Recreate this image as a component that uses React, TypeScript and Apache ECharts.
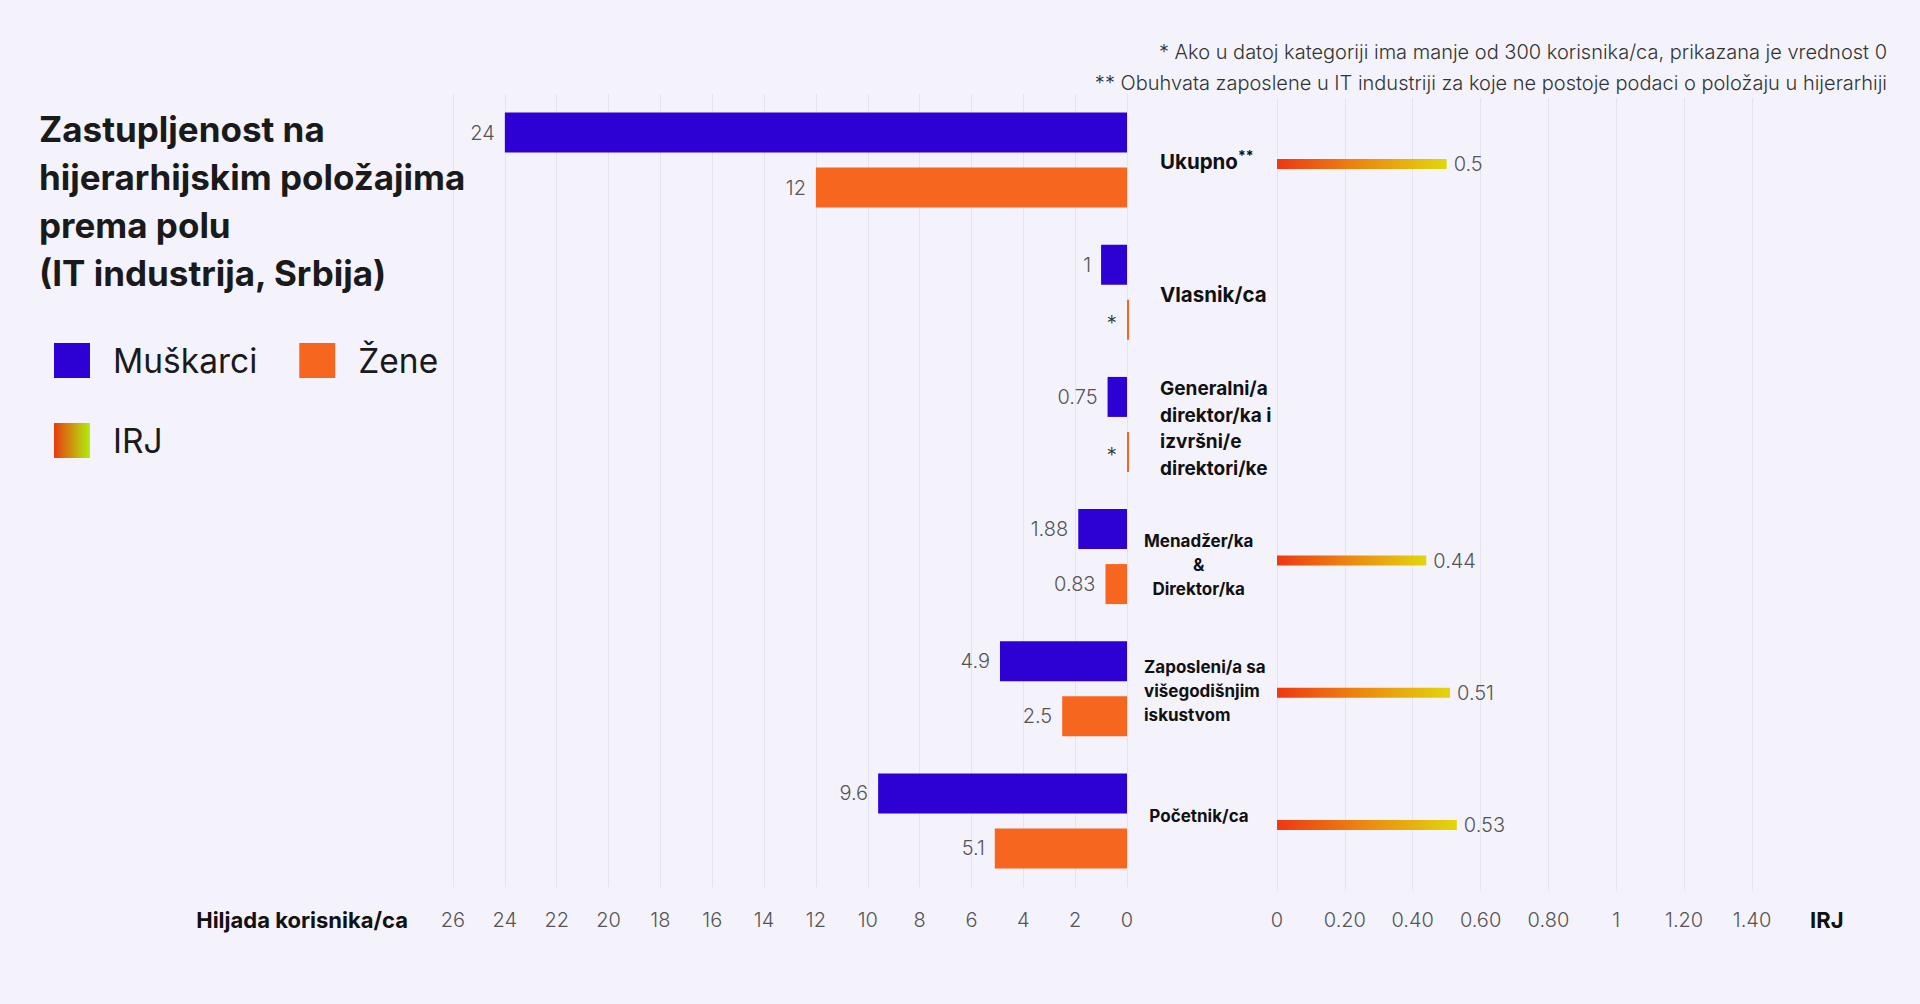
import { useEffect, useRef } from 'react';
import * as echarts from 'echarts';

const kategorije = [
  'Ukupno',
  'Vlasnik/ca',
  'Generalni/a direktor/ka i izvršni/e direktori/ke',
  'Menadžer/ka & Direktor/ka',
  'Zaposleni/a sa višegodišnjim iskustvom',
  'Početnik/ca',
];
const muskarci = [24, 1, 0.75, 1.88, 4.9, 9.6];
const zene = [12, 0, 0, 0.83, 2.5, 5.1];
const irj: (number | null)[] = [0.5, null, null, 0.44, 0.51, 0.53];
const irjTickovi = ['0', '0.20', '0.40', '0.60', '0.80', '1', '1.20', '1.40'];
const napomene = [
  '* Ako u datoj kategoriji ima manje od 300 korisnika/ca, prikazana je vrednost 0',
  '** Obuhvata zaposlene u IT industriji za koje ne postoje podaci o položaju u hijerarhiji',
];

// izgled oznaka kategorija (prelom redova i stil)
const oznakeKategorija = [
  '{u|Ukupno}{s|**}',
  '{u|Vlasnik/ca}',
  '{g|Generalni/a}\n{g|direktor/ka i}\n{g|izvršni/e}\n{g|direktori/ke}',
  '{m|Menadžer/ka}\n{m|&}\n{m|Direktor/ka}',
  '{z|Zaposleni/a sa}\n{z|višegodišnjim}\n{z|iskustvom}',
  '{p|Početnik/ca}',
];
// vertikalni pomak oznake (px, + je nadole)
const pomakOznake = [1, 2, 4, 8, 2, -5];

const FONT = 'Inter';
const PLAVA = '#2d00d3';
const NARANDZASTA = '#f7661f';
const POZADINA = '#f4f3fb';

export default function App() {
  const divRef = useRef<HTMLDivElement>(null);

  useEffect(() => {
    if (!divRef.current) return;
    document.body.style.margin = '0';
    document.body.style.background = POZADINA;

    const chart = echarts.init(divRef.current, undefined, { renderer: 'svg' });

    const irjGradijent = new echarts.graphic.LinearGradient(0, 0, 1, 0, [
      { offset: 0, color: '#ee3813' },
      { offset: 0.5, color: '#ec8a10' },
      { offset: 1, color: '#e2d60c' },
    ]);
    const legendaGradijent = new echarts.graphic.LinearGradient(0, 0, 1, 0, [
      { offset: 0, color: '#e83c10' },
      { offset: 1, color: '#b0f00c' },
    ]);

    const osnovniTekst = { fontFamily: FONT, color: '#111', fontWeight: 700 };
    const vrednostLabel = {
      show: true,
      fontFamily: FONT,
      fontSize: 20,
      fontWeight: 300,
      color: '#555',
    };
    const tickLabel = {
      fontFamily: FONT,
      fontSize: 20,
      fontWeight: 300,
      color: '#555',
      margin: 23,
    };
    const legendaTekst = { fontFamily: FONT, fontSize: 33.5, color: '#1a1a1a', padding: [0, 0, 0, 18] };

    const kategorijeY = kategorije.map((k, i) => {
      const d = pomakOznake[i];
      return { value: k, textStyle: { padding: d >= 0 ? [2 * d, 0, 0, 0] : [0, 0, -2 * d, 0] } };
    });

    chart.setOption({
      animation: false,
      backgroundColor: POZADINA,
      textStyle: { fontFamily: FONT },
      title: {
        text: 'Zastupljenost na\nhijerarhijskim položajima\nprema polu\n(IT industrija, Srbija)',
        left: 39,
        top: 105,
        padding: 0,
        textStyle: { ...osnovniTekst, fontSize: 35, lineHeight: 48, color: '#1a1a1a' },
      },
      graphic: napomene.map((t, i) => ({
        type: 'text',
        right: 33,
        top: 36 + i * 31,
        style: {
          text: t,
          fontFamily: FONT,
          fontSize: 20,
          fontWeight: 300,
          fill: '#333',
          lineHeight: 31,
        },
      })),
      legend: [
        {
          data: ['Muškarci', 'Žene'],
          left: 54,
          top: 343,
          padding: 0,
          icon: 'rect',
          itemWidth: 36,
          itemHeight: 35,
          itemGap: 42,
          selectedMode: false,
          textStyle: legendaTekst,
        },
        {
          data: [{ name: 'IRJ', itemStyle: { color: legendaGradijent } }],
          left: 54,
          top: 423,
          padding: 0,
          icon: 'rect',
          itemWidth: 36,
          itemHeight: 35,
          selectedMode: false,
          textStyle: legendaTekst,
        },
      ],
      grid: [
        { left: 453, top: 94, width: 674, height: 793 },
        { left: 1277, top: 98, width: 475, height: 793 },
      ],
      xAxis: [
        {
          gridIndex: 0,
          type: 'value',
          inverse: true,
          min: 0,
          max: 26,
          interval: 2,
          axisLine: { show: false },
          axisTick: { show: false },
          axisLabel: tickLabel,
          splitLine: { lineStyle: { color: '#e4e3ee', width: 1 } },
          name: 'Hiljada korisnika/ca',
          nameLocation: 'end',
          nameGap: 45,
          nameTextStyle: { ...osnovniTekst, fontSize: 22, verticalAlign: 'top', padding: [22, 0, 0, 0] },
        },
        {
          gridIndex: 1,
          type: 'value',
          min: 0,
          max: 1.4,
          interval: 0.2,
          axisLine: { show: false },
          axisTick: { show: false },
          axisLabel: {
            ...tickLabel,
            margin: 19,
            formatter: (v: number) => irjTickovi[Math.round(v / 0.2)] ?? '',
          },
          splitLine: { lineStyle: { color: '#e4e3ee', width: 1 } },
          name: 'IRJ',
          nameLocation: 'end',
          nameGap: 58,
          nameTextStyle: { ...osnovniTekst, fontSize: 22, verticalAlign: 'top', padding: [18, 0, 0, 0] },
        },
      ],
      yAxis: [
        {
          gridIndex: 0,
          type: 'category',
          data: kategorijeY,
          inverse: true,
          position: 'right',
          axisLine: { show: false },
          axisTick: { show: false },
          axisLabel: {
            margin: 17,
            formatter: (_v: string, i: number) => oznakeKategorija[i],
            rich: {
              u: { ...osnovniTekst, fontSize: 20.5, lineHeight: 26, padding: [0, 0, 0, 16] },
              s: { ...osnovniTekst, fontSize: 14, lineHeight: 14, verticalAlign: 'top' },
              g: { ...osnovniTekst, fontSize: 19, lineHeight: 26.5, padding: [0, 0, 0, 16] },
              m: { ...osnovniTekst, fontSize: 17, lineHeight: 24, align: 'center' },
              z: { ...osnovniTekst, fontSize: 17, lineHeight: 24 },
              p: { ...osnovniTekst, fontSize: 17, lineHeight: 24, width: 110, align: 'center' },
            },
          },
        },
        {
          gridIndex: 1,
          type: 'category',
          data: kategorije,
          inverse: true,
          show: false,
        },
      ],
      series: [
        {
          name: 'Muškarci',
          type: 'bar',
          xAxisIndex: 0,
          yAxisIndex: 0,
          data: muskarci,
          barWidth: 40,
          barGap: '37.5%',
          itemStyle: { color: PLAVA },
          label: { ...vrednostLabel, position: 'left', distance: 10 },
        },
        {
          name: 'Žene',
          type: 'bar',
          xAxisIndex: 0,
          yAxisIndex: 0,
          data: zene,
          barWidth: 40,
          barGap: '37.5%',
          barMinHeight: 2,
          clip: false,
          itemStyle: { color: NARANDZASTA },
          label: {
            ...vrednostLabel,
            position: 'left',
            distance: 10,
            formatter: (p: any) => (p.value === 0 ? '{zv|*}' : String(p.value)),
            rich: { zv: { fontFamily: FONT, fontSize: 21, fontWeight: 300, color: '#333', padding: [8, 0, 0, 0] } },
          },
        },
        {
          name: 'IRJ',
          type: 'bar',
          xAxisIndex: 1,
          yAxisIndex: 1,
          data: irj.map(v => (v === null ? '-' : v)),
          barWidth: 10,
          itemStyle: { color: irjGradijent },
          label: { ...vrednostLabel, position: 'right', distance: 7 },
        },
      ],
    });

    return () => {
      chart.dispose();
    };
  }, []);

  return <div ref={divRef} style={{ width: 1920, height: 1004 }} />;
}
